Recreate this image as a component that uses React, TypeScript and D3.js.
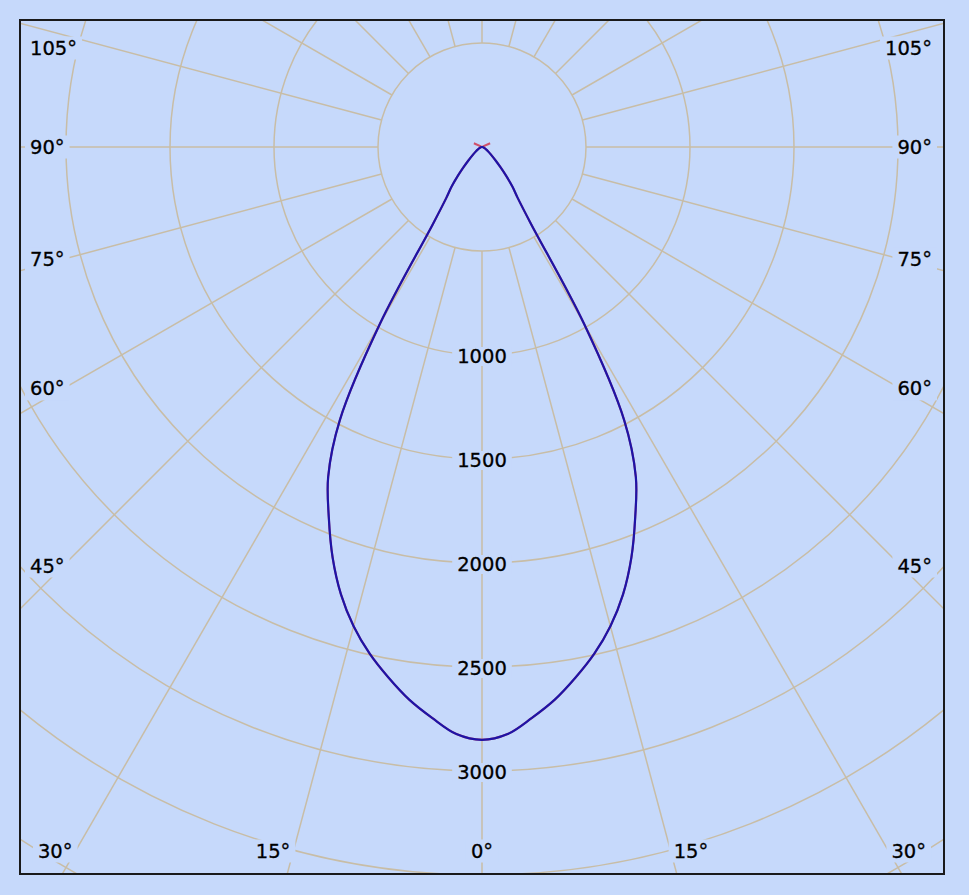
import React, { useEffect, useRef } from "react";
import * as d3 from "d3";

// Gamma angles (degrees from nadir) and luminous intensity (cd)
const GAMMA = [0, 2.5, 5, 7.5, 10, 12.5, 15, 17.5, 20, 22.5, 25, 27.5, 30, 32.5, 35, 37.5, 40, 42.5, 45, 50, 55, 60, 65, 70, 75, 80, 85, 90];
const C90_VALUES = [2850, 2825, 2755, 2680, 2590, 2495, 2385, 2255, 2100, 1925, 1750, 1480, 980, 440, 300, 240, 180, 130, 95, 55, 35, 22, 15, 10, 6, 4, 2, 0];
const C0_GAMMA = [...GAMMA, 115];
const C0_VALUES = [...C90_VALUES, 43];

const RING_VALUES = [500, 1000, 1500, 2000, 2500, 3000, 3500, 4000, 4500];
const RING_LABELS = [1000, 1500, 2000, 2500, 3000];
const SPOKE_ANGLES = d3.range(0, 360, 15);
const ANGLE_LABELS = [0, 15, 30, 45, 60, 75, 90, 105];

const W = 969;
const H = 895;
const BOX = { x0: 20, y0: 20, x1: 944, y1: 874 };
const CX = 482;
const CY = 147;
const BG = "#c6d9fb";
const GRID = "#c8bda6";
const FONT = "DejaVu Sans";

export default function App() {
  const ref = useRef<SVGSVGElement>(null);

  useEffect(() => {
    const svg = d3.select(ref.current);
    svg.selectAll("*").remove();

    const r = d3.scaleLinear().domain([0, 500]).range([0, 104]);

    svg.append("rect").attr("width", W).attr("height", H).attr("fill", BG);

    const defs = svg.append("defs");
    defs.append("clipPath").attr("id", "boxclip")
      .append("rect")
      .attr("x", BOX.x0).attr("y", BOX.y0)
      .attr("width", BOX.x1 - BOX.x0).attr("height", BOX.y1 - BOX.y0);

    const g = svg.append("g").attr("clip-path", "url(#boxclip)");
    const grid = g.append("g").attr("transform", `translate(${CX},${CY})`);

    // rings
    grid.selectAll("circle.ring").data(RING_VALUES).enter().append("circle")
      .attr("r", (d) => r(d))
      .attr("fill", "none")
      .attr("stroke", GRID)
      .attr("stroke-width", 1.5);

    // spokes
    grid.selectAll("line.spoke").data(SPOKE_ANGLES).enter().append("line")
      .attr("x1", (a) => r(500) * Math.sin((a * Math.PI) / 180))
      .attr("y1", (a) => r(500) * Math.cos((a * Math.PI) / 180))
      .attr("x2", (a) => 1400 * Math.sin((a * Math.PI) / 180))
      .attr("y2", (a) => 1400 * Math.cos((a * Math.PI) / 180))
      .attr("stroke", GRID)
      .attr("stroke-width", 1.5);

    const labels = svg.append("g")
      .attr("font-family", FONT)
      .attr("font-size", 19.5)
      .attr("fill", "#000")
      .attr("stroke", "#000")
      .attr("stroke-width", 0.3);

    const addLabel = (text: string, x: number, y: number, anchor: string, padX: number, padY: number) => {
      const grp = labels.append("g");
      const rect = grp.append("rect").attr("fill", BG).attr("stroke", "none");
      const t = grp.append("text")
        .attr("x", x).attr("y", y)
        .attr("text-anchor", anchor)
        .attr("dominant-baseline", "central")
        .text(text);
      const bb = (t.node() as SVGTextElement).getBBox();
      rect.attr("x", bb.x - padX).attr("y", bb.y + 3 - padY)
        .attr("width", bb.width + 2 * padX).attr("height", bb.height - 6 + 2 * padY);
    };

    // ring labels
    RING_LABELS.forEach((v) => {
      addLabel(String(v), CX, CY + r(v) + 1.5, "middle", 5, 1);
    });

    // angle labels
    const L = 63, R = 901, B = 851, T = 48;
    ANGLE_LABELS.forEach((a) => {
      const rad = (a * Math.PI) / 180;
      const txt = `${a}°`;
      if (a === 0) {
        addLabel(txt, CX, B, "middle", 5, 3);
        return;
      }
      const bottomDx = (B - CY) * Math.tan(rad);
      if (a < 90 && bottomDx <= CX - L) {
        addLabel(txt, CX - bottomDx - 3, B, "end", 5, 3);
        addLabel(txt, CX + bottomDx + 3, B, "start", 5, 3);
      } else {
        let y = CY + (CX - L) / Math.tan(rad);
        if (a === 90) y = CY;
        y = Math.max(T, Math.min(B, y));
        let yr = CY + (R - CX) / Math.tan(rad);
        if (a === 90) yr = CY;
        yr = Math.max(T, Math.min(B, yr));
        addLabel(txt, 30, y, "start", 5, 3);
        addLabel(txt, 932, yr, "end", 5, 3);
      }
    });

    // curves
    const curveClip = svg.append("g").attr("clip-path", "url(#boxclip)");
    const curveG = curveClip.append("g").attr("transform", `translate(${CX},${CY})`);

    const buildPoints = (gammas: number[], values: number[]) => {
      const pts: [number, number][] = [];
      for (let i = gammas.length - 1; i >= 0; i--) {
        pts.push([Math.PI + (gammas[i] * Math.PI) / 180, r(values[i])]);
      }
      for (let i = 1; i < gammas.length; i++) {
        pts.push([Math.PI - (gammas[i] * Math.PI) / 180, r(values[i])]);
      }
      return pts;
    };

    const line = d3.lineRadial<[number, number]>()
      .angle((d) => d[0])
      .radius((d) => d[1])
      .curve(d3.curveCatmullRom.alpha(0.5));

    curveG.append("path")
      .attr("d", line(buildPoints(C0_GAMMA, C0_VALUES)))
      .attr("fill", "none")
      .attr("stroke", "#d0506a")
      .attr("stroke-width", 2)
      .attr("stroke-linejoin", "round");

    curveG.append("path")
      .attr("d", line(buildPoints(GAMMA, C90_VALUES)))
      .attr("fill", "none")
      .attr("stroke", "#1e14a6")
      .attr("stroke-width", 2.2)
      .attr("stroke-linejoin", "round");

    // frame
    svg.append("rect")
      .attr("x", BOX.x0).attr("y", BOX.y0)
      .attr("width", BOX.x1 - BOX.x0).attr("height", BOX.y1 - BOX.y0)
      .attr("fill", "none")
      .attr("stroke", "#1a1a1a")
      .attr("stroke-width", 2);
  }, []);

  return (
    <svg
      ref={ref}
      width={W}
      height={H}
      style={{ position: "absolute", left: 0, top: 0, display: "block" }}
    />
  );
}
